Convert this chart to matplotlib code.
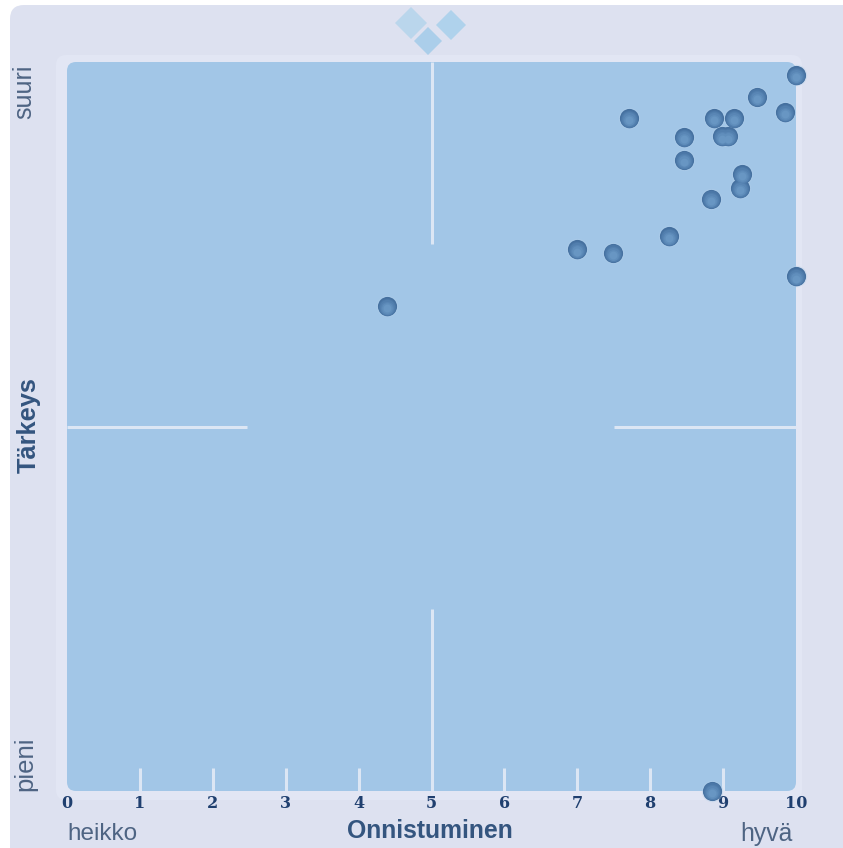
import matplotlib
matplotlib.use("Agg")
import matplotlib.pyplot as plt
from matplotlib.patches import FancyBboxPatch, Polygon

W, H = 843, 848
onnistuminen = [10.0, 9.47, 9.85, 8.88, 9.15, 7.71, 8.46, 8.98, 9.07, 8.46,
                9.26, 9.23, 8.83, 8.26, 7.0, 7.49, 10.0, 4.39, 8.85]
tarkeys = [9.82, 9.52, 9.31, 9.23, 9.23, 9.23, 8.97, 8.98, 8.98, 8.66,
           8.46, 8.27, 8.12, 7.61, 7.43, 7.38, 7.06, 6.65, 0.0]
x_ticks = list(range(0, 11))

NAVY = "#1F3F6F"
GREY = "#4E6483"
plt.rcParams["font.family"] = ["Liberation Sans", "DejaVu Sans"]

fig = plt.figure(figsize=(W / 100, H / 100), dpi=100, facecolor="white")

# page background in pixel coordinates
bg = fig.add_axes([0, 0, 1, 1])
bg.set_xlim(0, W)
bg.set_ylim(H, 0)
bg.axis("off")
bg.add_patch(FancyBboxPatch((10, 5), W + 30, H + 30, boxstyle="round,pad=0,rounding_size=14",
                            fc="#DDE1F0", ec="none"))
bg.add_patch(FancyBboxPatch((56, 55), 746, 745, boxstyle="round,pad=0,rounding_size=10",
                            fc="#E2E6F4", ec="none"))
bg.add_patch(FancyBboxPatch((67, 62), 729, 729, boxstyle="round,pad=0,rounding_size=9",
                            fc="#A2C6E7", ec="none"))
for cx, cy, r, c in [(411, 23, 16, "#BAD6EC"), (451, 25, 15, "#AFD2EC"), (428, 41, 14, "#ABCEEA")]:
    bg.add_patch(Polygon([(cx - r, cy), (cx, cy - r), (cx + r, cy), (cx, cy + r)],
                         closed=True, fc=c, ec="none"))

# chart
ax = fig.add_axes([67 / W, 1 - 791 / H, 729 / W, 729 / H])
ax.patch.set_alpha(0)
ax.set_xlim(0, 10)
ax.set_ylim(0, 10)
for s in ax.spines.values():
    s.set_visible(False)
ax.set_xticks(x_ticks)
ax.set_yticks([])
ax.tick_params(axis="x", length=0, pad=3, labelsize=11.5, labelcolor=NAVY)
for lab in ax.get_xticklabels():
    lab.set_fontfamily("DejaVu Serif")
    lab.set_fontweight("bold")

LINE = "#DCE6F4"
ax.plot([5, 5], [7.5, 10], color=LINE, lw=2.2, solid_capstyle="butt")
ax.plot([5, 5], [0, 2.5], color=LINE, lw=2.2, solid_capstyle="butt")
ax.plot([0, 2.47], [5, 5], color=LINE, lw=2.2, solid_capstyle="butt")
ax.plot([7.5, 10], [5, 5], color=LINE, lw=2.2, solid_capstyle="butt")
for t in x_ticks[1:-1]:
    ax.plot([t, t], [0, 0.32], color=LINE, lw=2.2, solid_capstyle="butt")

# shaded balls: soft halo, then layers lightening towards the lower part
ax.scatter(onnistuminen, tarkeys, s=240, c="#B4D0EA", linewidths=0, alpha=0.35, clip_on=False, zorder=4)
layers = [(190, 0.0, "#45709F"), (160, 0.006, "#4B77A7"), (125, 0.012, "#527FAE"),
          (90, 0.018, "#5986B5"), (60, 0.024, "#608EBC"), (32, 0.03, "#6896C3")]
for i, (size, dy, col) in enumerate(layers):
    ax.scatter(onnistuminen, [v - dy for v in tarkeys], s=size, c=col, linewidths=0,
               clip_on=False, zorder=5 + i)

# labels
top = fig.add_axes([0, 0, 1, 1])
top.set_xlim(0, W)
top.set_ylim(H, 0)
top.axis("off")
top.text(430, 831, "Onnistuminen", fontsize=17.8, fontweight="bold", color="#34557F", ha="center", va="center")
top.text(67, 834, "heikko", fontsize=17.5, color=GREY, ha="left", va="center")
top.text(766, 834, "hyvä", fontsize=17.8, color=GREY, ha="center", va="center")
top.text(24, 92, "suuri", fontsize=18, color=GREY, rotation=90, ha="center", va="center")
top.text(25, 764, "pieni", fontsize=18.5, color=GREY, rotation=90, ha="center", va="center")
top.text(29, 425, "Tärkeys", fontsize=18.3, fontweight="bold", color="#34557F", rotation=90, ha="center", va="center")

fig.savefig("out.png", dpi=100, facecolor="white")
